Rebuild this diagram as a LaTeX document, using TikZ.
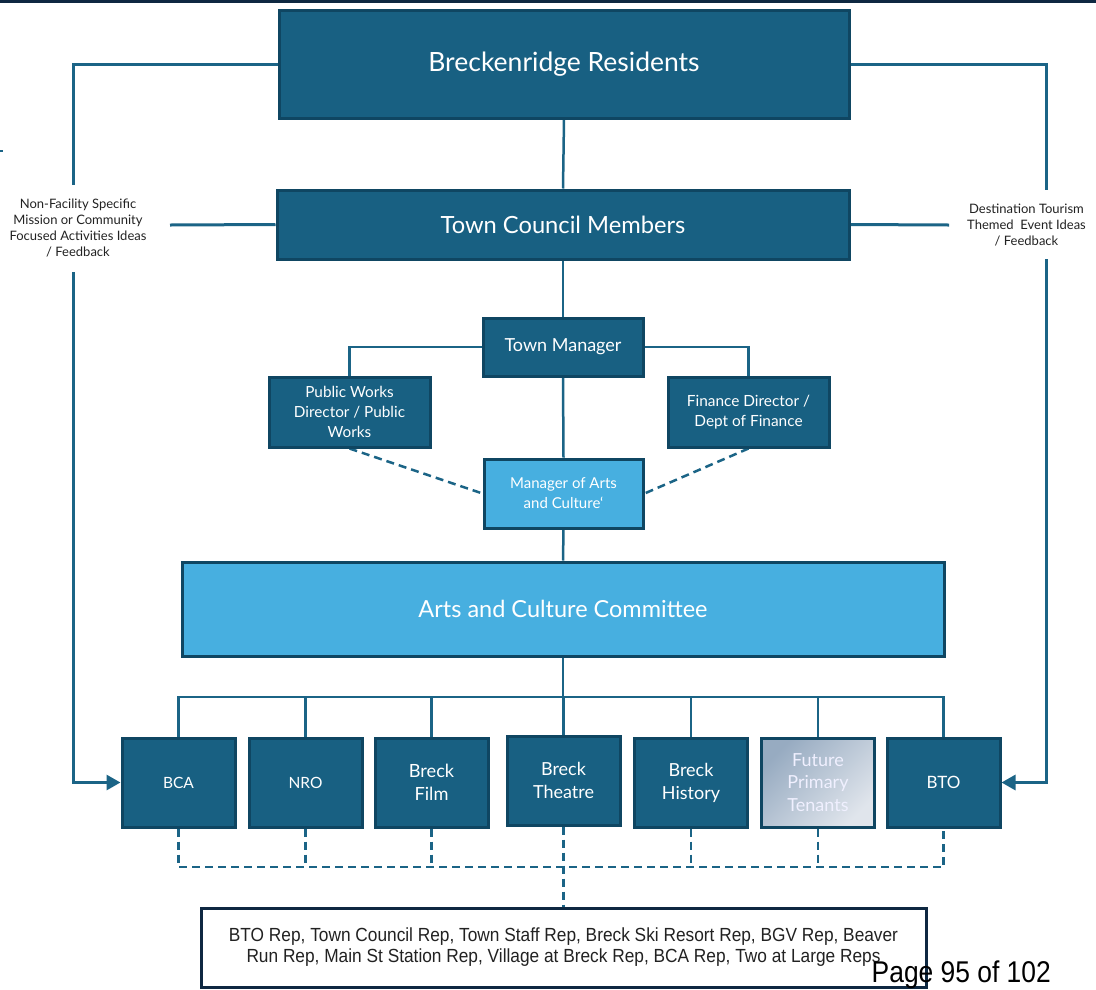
\documentclass[tikz,border=0pt]{standalone}
\usepackage{fontspec}
\setmainfont{Lato}
\newfontfamily\narrowfont[FakeStretch=0.91]{Liberation Sans}
\newfontfamily\pagefont[FakeStretch=0.88]{Liberation Sans}
\usetikzlibrary{arrows.meta,backgrounds}
\definecolor{boxblue}{HTML}{186082}
\definecolor{edgeblue}{HTML}{0F4662}
\definecolor{lightblue}{HTML}{47AFE0}
\definecolor{lineblue}{HTML}{1B6486}
\definecolor{navy}{HTML}{0E2841}
\definecolor{notegray}{HTML}{222222}
\definecolor{fptA}{HTML}{97ABC1}
\definecolor{fptB}{HTML}{E0E5EC}
\begin{document}
\begin{tikzpicture}[x=1pt,y=-1pt,
  darkbox/.style={draw=edgeblue, line width=3pt, fill=boxblue, text=white, align=center, inner sep=2pt},
  lightbox/.style={draw=edgeblue, line width=3pt, fill=lightblue, text=white, align=center, inner sep=2pt},
  conn/.style={draw=lineblue, line width=2.5pt},
  fbloop/.style={draw=lineblue, line width=3pt},
  dconn/.style={draw=lineblue, line width=2.5pt, dash pattern=on 8pt off 5pt},
  note/.style={text=notegray, align=center, font=\fontsize{13}{16}\selectfont, inner sep=0pt},
  small/.style={minimum width=113, minimum height=89}
]
\useasboundingbox (0,0) rectangle (1096,989);
\fill[navy] (0,0) rectangle (1096,2.5);
\coordinate (tickA) at (0,151);
\coordinate (tickB) at (3,151);
\draw[lineblue, line width=2pt] (tickA) -- (tickB);

% main boxes
\node[darkbox, minimum width=570, minimum height=108, font=\fontsize{26.5}{30}\selectfont] (res) at (564,64) {Breckenridge Residents};
\node[darkbox, minimum width=572, minimum height=69, font=\fontsize{23.7}{28}\selectfont] (council) at (563,224.5) {Town Council Members};
\node[darkbox, minimum width=160, minimum height=58, font=\fontsize{18}{21}\selectfont] (tm) at (563,347) {Town Manager};
\node[darkbox, minimum width=161, minimum height=70, font=\fontsize{15.3}{20}\selectfont] (pw) at (349.5,412) {Public Works\\Director / Public\\Works};
\node[darkbox, minimum width=161, minimum height=70, font=\fontsize{15.4}{20}\selectfont] (fin) at (748.5,412) {Finance Director /\\Dept of Finance};
\node[lightbox, minimum width=159, minimum height=69, font=\fontsize{15}{20}\selectfont] (mac) at (563.5,493.5) {Manager of Arts\\and Culture`};
\node[lightbox, minimum width=762, minimum height=94, font=\fontsize{23.5}{28}\selectfont] (acc) at (563,609) {Arts and Culture Committee};

% member boxes
\node[darkbox, small, font=\fontsize{15.5}{18}\selectfont] (bca) at (178.5,782.5) {BCA};
\node[darkbox, small, font=\fontsize{15.5}{18}\selectfont] (nro) at (305.5,782.5) {NRO};
\node[darkbox, small, font=\fontsize{18.2}{23}\selectfont] (film) at (431.5,782.5) {Breck\\Film};
\node[darkbox, small, font=\fontsize{18}{23}\selectfont] (theatre) at (563.5,780.5) {Breck\\Theatre};
\node[darkbox, small, font=\fontsize{18}{23}\selectfont] (history) at (691,782.5) {Breck\\History};
\node[draw=edgeblue, line width=3pt, top color=fptA, bottom color=fptB, shading angle=45, text=white!94!blue, align=center, small, font=\fontsize{18}{22.5}\selectfont] (fpt) at (818,782.5) {Future\\Primary\\Tenants};
\node[darkbox, small, font=\fontsize{17}{20}\selectfont] (bto) at (943.5,782.5) {BTO};

% reps box
\node[draw=navy, line width=3pt, fill=white, minimum width=725, minimum height=79, text=notegray, align=center, font=\narrowfont\fontsize{19}{21.5}\selectfont] (reps) at (563.5,947.5) {\raisebox{-2.5pt}{\begin{tabular}{@{}c@{}}BTO Rep, Town Council Rep, Town Staff Rep, Breck Ski Resort Rep, BGV Rep, Beaver\\Run Rep, Main St Station Rep, Village at Breck Rep, BCA Rep, Two at Large Reps\end{tabular}}};

% feedback labels
\node[note] (leftnote) at (78,228) {Non-Facility Specific\\Mission or Community\\Focused Activities Ideas\\/ Feedback};
\node[note] (rightnote) at (1026.5,225) {Destination Tourism\\Themed\ \ Event Ideas\\/ Feedback};

% page number
\node[anchor=base east, inner sep=0pt, text=black, font=\pagefont\fontsize{30}{34}\selectfont] (page) at (1051,982) {Page 95 of 102};

\coordinate (L1) at (73,185);
\coordinate (L2) at (73,272);
\coordinate (Lh) at (170,225);
\coordinate (R1) at (1046,190);
\coordinate (R2) at (1046,259);
\coordinate (Rh) at (949,225);
\coordinate (busY) at (0,697);
\coordinate (dashY) at (0,867);

\begin{scope}[on background layer]
\draw[conn] (res.south) -- (council.north);
\draw[conn] (council.south) -- (tm.north);
\draw[conn] (tm.west) -| (pw.north);
\draw[conn] (tm.east) -| (fin.north);
\draw[conn] (tm.south) -- (mac.north);
\draw[dconn] (pw.south) -- (mac.west);
\draw[dconn] (fin.south) -- (mac.east);
\draw[conn] (mac.south) -- (acc.north);
\draw[conn] (acc.south) -- (acc.south |- busY);
\draw[conn] (bca.north) |- (bto.north |- busY) -- (bto.north);
\foreach \n in {nro,film,theatre,history,fpt} \draw[conn] (\n.north) -- (\n.north |- busY);
\draw[dconn] (bca.south) |- (bto.south |- dashY) -- (bto.south);
\foreach \n in {nro,film,history,fpt} \draw[dconn] (\n.south) -- (\n.south |- dashY);
\draw[dconn] (theatre.south) -- (reps.north);
% feedback loops
\draw[fbloop] (res.west) -| (L1);
\draw[fbloop] (council.west) -- (Lh);
\draw[fbloop, -{Triangle[length=14pt,width=15pt]}] (L2) |- (bca.west);
\draw[fbloop] (res.east) -| (R1);
\draw[fbloop] (council.east) -- (Rh);
\draw[fbloop, -{Triangle[length=14pt,width=15pt]}] (R2) |- (bto.east);
\end{scope}
\end{tikzpicture}
\end{document}
